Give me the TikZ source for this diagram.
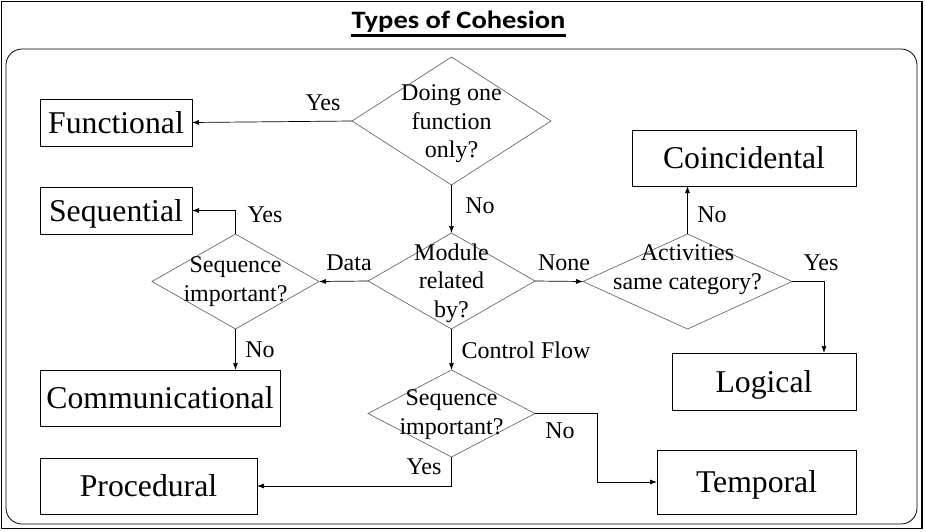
\documentclass[tikz,border=0pt]{standalone}
\usepackage{fontspec}
\setmainfont{Liberation Serif}
\newfontfamily\titlefont[FakeStretch=1.14]{Carlito}
\usepackage{tikz}
\usetikzlibrary{shapes.geometric,arrows.meta,positioning}
\definecolor{diagline}{RGB}{90,90,90}

\tikzset{
  typebox/.style={draw, line width=0.8pt, inner sep=0pt, outer sep=0pt, text height=21pt, text depth=0pt, font=\fontsize{31.7}{38}\selectfont},
  decision/.style={diamond, draw=diagline, line width=0.6pt, inner sep=0pt, outer sep=0pt},
  qtext/.style={font=\fontsize{24}{28.5}\selectfont, align=center, inner sep=0pt},
  lbl/.style={font=\fontsize{24}{28}\selectfont, inner sep=0pt},
  flow/.style={-{Latex[length=7pt,width=5pt]}, line width=0.7pt}
}

\begin{document}
\begin{tikzpicture}[x=1pt,y=-1pt]
	\useasboundingbox (0,0) rectangle (926,531);
	\draw[line width=1.2pt] (1.5,1.5) rectangle (922,528.5);
	\draw[line width=0.8pt, rounded corners=16pt] (6,49) rectangle (917,524);

	% title
	\node[inner sep=0pt, font=\titlefont\bfseries\fontsize{25}{29}\selectfont] (title) at (458.5,22) {Types of Cohesion};
	\draw[line width=2.2pt] ([yshift=-2.5pt]title.south west) -- ([yshift=-2.5pt]title.south east);

	% decisions
	\node[decision, minimum width=199pt, minimum height=128pt, label={[qtext, yshift=-3pt]center:Doing one\\function\\only?}] (doing) at (451.5,121) {};
	\node[decision, minimum width=167pt, minimum height=96pt, label={[qtext, yshift=-2pt]center:Module\\related\\by?}] (module) at (451.5,281) {};
	\node[decision, minimum width=167pt, minimum height=95pt, label={[qtext]center:Sequence\\important?}] (seqA) at (235.5,281.5) {};
	\node[decision, minimum width=209pt, minimum height=95pt, label={[qtext, yshift=12pt]center:Activities\\same category?}] (activ) at (687.5,281.5) {};
	\node[decision, minimum width=167pt, minimum height=87pt, label={[qtext, yshift=-1pt]center:Sequence\\important?}] (seqB) at (451.5,413.5) {};

	% cohesion types
	\node[typebox, minimum width=152pt, minimum height=47pt] (func) at (116,122.5) {Functional};
	\node[typebox, minimum width=152pt, minimum height=47pt] (seq) at (116,210.5) {Sequential};
	\node[typebox, minimum width=240pt, minimum height=56pt] (comm) at (160,398) {Communicational};
	\node[typebox, minimum width=217pt, minimum height=56pt] (proc) at (148.5,486) {Procedural};
	\node[typebox, minimum width=224pt, minimum height=56pt] (coin) at (744,158) {Coincidental};
	\node[typebox, minimum width=184pt, minimum height=57pt] (logic) at (764,381.5) {Logical};
	\node[typebox, minimum width=199pt, minimum height=64pt] (temp) at (756.5,482) {Temporal};

	% connectors
	\draw[flow] (doing.west) -- (func.east);
	\draw[flow] (doing.south) -- (module.north);
	\draw[flow] (module.west) -- (seqA.east);
	\draw[flow] (seqA.north) |- (seq.east);
	\draw[flow] (seqA.south) -- (seqA.south |- comm.north);
	\draw[flow] (module.east) -- (activ.west);
	\draw[flow] (activ.north) -- (activ.north |- coin.south);
	\draw[flow] (activ.east) -| ([xshift=60pt]logic.north);
	\draw[flow] (module.south) -- (seqB.north);
	\draw[flow] (seqB.south) |- (proc.east);
	\draw[flow] (seqB.east) -| ([xshift=-60pt]temp.west) -- (temp.west);

	% branch labels
	\node[lbl] (yesFunc) at (323,103) {Yes};
	\node[lbl] (noDoing) at (480,206) {No};
	\node[lbl] (data) at (349,263) {Data};
	\node[lbl] (yesSeq) at (265,215) {Yes};
	\node[lbl] (noComm) at (260,350) {No};
	\node[lbl] (none) at (564,263) {None};
	\node[lbl] (noCoin) at (712,215) {No};
	\node[lbl] (yesLogic) at (821,263) {Yes};
	\node[lbl] (ctrl) at (526,350) {Control Flow};
	\node[lbl] (yesProc) at (424,467) {Yes};
	\node[lbl] (noTemp) at (560,431) {No};
\end{tikzpicture}
\end{document}
